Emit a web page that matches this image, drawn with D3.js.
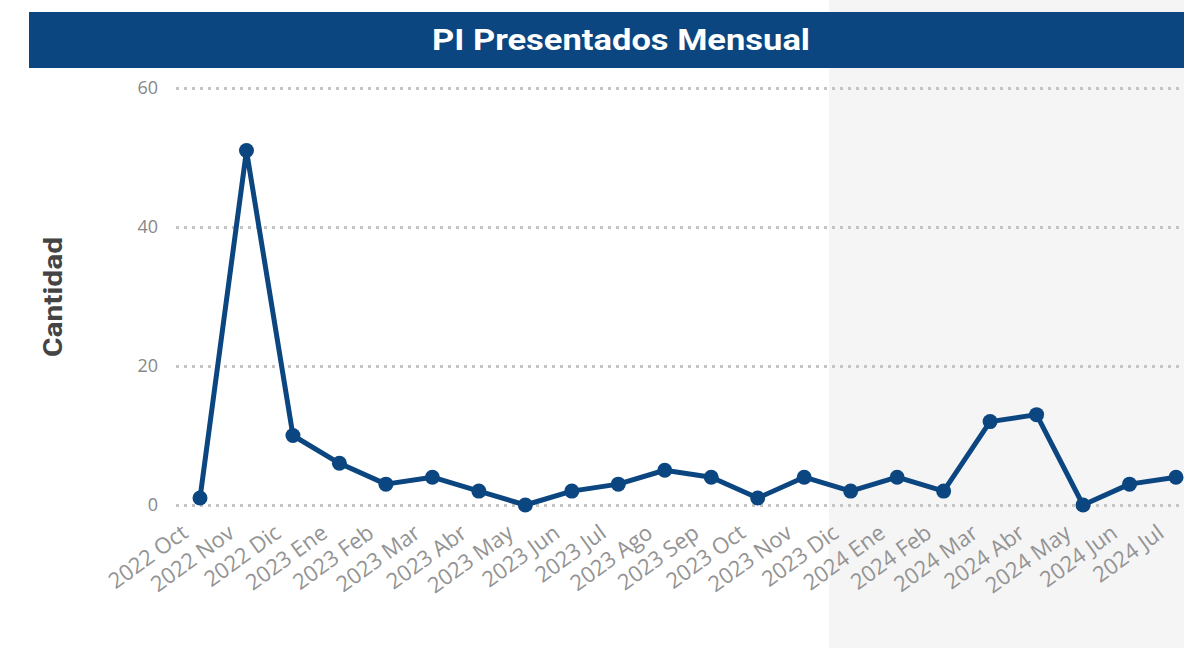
<!DOCTYPE html>
<html>
<head>
<meta charset="utf-8">
<script src="https://cdn.jsdelivr.net/npm/d3@7"></script>
<style>
	body { margin: 0; background: #ffffff; }
	svg { display: block; }
</style>
</head>
<body>
<div id="chart"></div>
<script>
// data
var months = ["2022 Oct", "2022 Nov", "2022 Dic", "2023 Ene", "2023 Feb", "2023 Mar", "2023 Abr",
	"2023 May", "2023 Jun", "2023 Jul", "2023 Ago", "2023 Sep", "2023 Oct", "2023 Nov", "2023 Dic",
	"2024 Ene", "2024 Feb", "2024 Mar", "2024 Abr", "2024 May", "2024 Jun", "2024 Jul"];
var cantidad = [1, 51, 10, 6, 3, 4, 2, 0, 2, 3, 5, 4, 1, 4, 2, 4, 2, 12, 13, 0, 3, 4];
var yTicks = [0, 20, 40, 60];

var width = 1184;
var height = 648;
var blue = "#0b4680";

var svg = d3.select("#chart")
	.append("svg")
	.attr("width", width)
	.attr("height", height);

// grey panel on the right
svg.append("rect")
	.attr("x", 829).attr("y", 0)
	.attr("width", width - 829).attr("height", height)
	.attr("fill", "#f5f5f5");

// title bar
svg.append("rect")
	.attr("x", 29).attr("y", 12)
	.attr("width", width - 29).attr("height", 56)
	.attr("fill", blue);

svg.append("text")
	.attr("x", 621).attr("y", 50)
	.attr("text-anchor", "middle")
	.attr("fill", "#ffffff")
	.attr("textLength", 378)
	.attr("lengthAdjust", "spacingAndGlyphs")
	.style("font-family", "Roboto, 'DejaVu Sans', sans-serif")
	.style("font-weight", "bold")
	.style("font-size", "30px")
	.text("PI Presentados Mensual");

var x = d3.scalePoint()
	.domain(months)
	.range([200, 1176]);

var y = d3.scaleLinear()
	.domain([0, 60])
	.range([505, 88]);

// gridlines + y labels
var yAxis = svg.append("g")
	.attr("transform", "translate(176,0)")
	.call(d3.axisLeft(y).tickValues(yTicks).tickSize(-(width - 176)).tickPadding(18));

yAxis.select(".domain").remove();
yAxis.selectAll(".tick line")
	.attr("stroke", "#c4c4c4")
	.attr("stroke-width", 3)
	.attr("stroke-dasharray", "3,5");
yAxis.selectAll(".tick text")
	.attr("fill", "#888")
	.style("font-family", "'Open Sans', sans-serif")
	.style("font-size", "18px");

svg.append("text")
	.attr("transform", "translate(62,297) rotate(-90)")
	.attr("text-anchor", "middle")
	.attr("fill", "#444")
	.attr("textLength", 120)
	.attr("lengthAdjust", "spacingAndGlyphs")
	.style("font-family", "Roboto, sans-serif")
	.style("font-weight", "bold")
	.style("font-size", "25px")
	.text("Cantidad");

// x labels
var xAxis = svg.append("g")
	.attr("transform", "translate(0,505)")
	.call(d3.axisBottom(x).tickSize(0).tickPadding(0));

xAxis.select(".domain").remove();
xAxis.selectAll(".tick text")
	.attr("text-anchor", "end")
	.attr("dy", 0)
	.attr("transform", "translate(-11,31) rotate(-36)")
	.attr("fill", "#939393")
	.style("font-family", "'Open Sans', sans-serif")
	.style("font-size", "22px");

// line + markers
var line = d3.line()
	.x(function (d, i) { return x(months[i]); })
	.y(function (d) { return y(d); });

svg.append("path")
	.datum(cantidad)
	.attr("fill", "none")
	.attr("stroke", blue)
	.attr("stroke-width", 5)
	.attr("stroke-linejoin", "round")
	.attr("d", line);

svg.selectAll(".dot")
	.data(cantidad)
	.enter()
	.append("circle")
	.classed("dot", true)
	.attr("cx", function (d, i) { return x(months[i]); })
	.attr("cy", function (d) { return y(d); })
	.attr("r", 7.5)
	.attr("fill", blue);
</script>
</body>
</html>
